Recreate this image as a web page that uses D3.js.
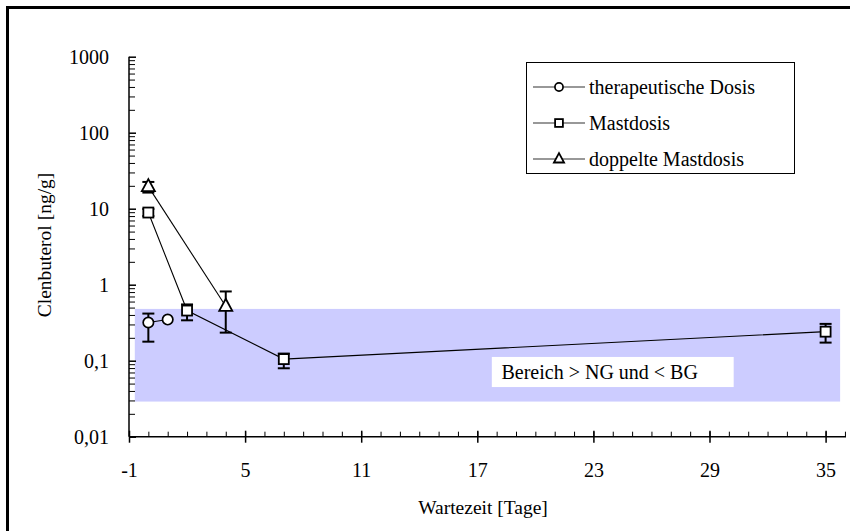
<!DOCTYPE html>
<html>
<head>
<meta charset="utf-8">
<script src="https://cdn.jsdelivr.net/npm/d3@7"></script>
<style>
body { margin: 0; background: #fff; }
svg { display: block; }
</style>
</head>
<body>
<svg class="chart" width="850" height="531"></svg>
<script>
// Wartezeit in Tagen, Clenbuterol in ng/g
var therapDays = [0, 1]
var therapVals = [0.318, 0.348]
var therapLo = [0.178, null]
var therapHi = [0.417, null]

var mastDays = [0, 2, 7, 35]
var mastVals = [8.9, 0.457, 0.105, 0.241]
var mastLo = [8.0, 0.34, 0.0795, 0.173]
var mastHi = [9.9, 0.55, 0.124, 0.305]

var doppDays = [0, 4]
var doppVals = [19.5, 0.52]
var doppLo = [16.3, 0.234]
var doppHi = [22.5, 0.815]

var seriesNames = ["therapeutische Dosis", "Mastdosis", "doppelte Mastdosis"]
var xTicks = [-1, 5, 11, 17, 23, 29, 35]
var yTicks = [0.01, 0.1, 1, 10, 100, 1000]
var yTickLabels = ["0,01", "0,1", "1", "10", "100", "1000"]

// Bereich > NG und < BG
var bandX = [-0.7, 35.75]
var bandY = [0.029, 0.48]
var noteText = "Bereich > NG und < BG"

var FONT = "'Liberation Serif', 'Times New Roman', serif"

var svg = d3.select(".chart")

var x = d3.scaleLinear().domain([-1, 35]).range([129, 825.6])
var y = d3.scaleLog().domain([0.01, 1000]).range([436.7, 56.7])

function pack(days, vals, lo, hi) {
    return days.map(function(d, i) {
        return {x: d, y: vals[i], lo: lo[i], hi: hi[i]}
    })
}
var series = [
    {name: seriesNames[0], shape: "circle", pts: pack(therapDays, therapVals, therapLo, therapHi)},
    {name: seriesNames[1], shape: "square", pts: pack(mastDays, mastVals, mastLo, mastHi)},
    {name: seriesNames[2], shape: "triangle", pts: pack(doppDays, doppVals, doppLo, doppHi)}
]

// frame
svg.append("line").attr("x1", 6).attr("x2", 850).attr("y1", 7.5).attr("y2", 7.5)
   .attr("stroke", "#000").attr("stroke-width", 3)
svg.append("line").attr("x1", 7.5).attr("x2", 7.5).attr("y1", 6).attr("y2", 531)
   .attr("stroke", "#000").attr("stroke-width", 3)

// band
svg.append("rect")
   .attr("x", x(bandX[0])).attr("width", x(bandX[1]) - x(bandX[0]))
   .attr("y", y(bandY[1])).attr("height", y(bandY[0]) - y(bandY[1]))
   .attr("fill", "#ccccff")

var note = svg.append("g")
note.append("rect")
   .attr("x", x(17.75)).attr("width", x(30.25) - x(17.75))
   .attr("y", y(0.112)).attr("height", y(0.045) - y(0.112))
   .attr("fill", "#fff")
note.append("text")
   .attr("x", x(18.25)).attr("y", y(0.071))
   .attr("dy", "0.35em")
   .attr("font-family", FONT).attr("font-size", 20)
   .text(noteText)

// x axis
var xAxis = svg.append("g")
   .attr("transform", "translate(0," + y(0.01) + ")")
xAxis.append("line").attr("x1", x(-1)).attr("x2", 846).attr("stroke", "#000").attr("stroke-width", 1.5)
xAxis.append("g")
   .call(d3.axisTop(x).tickValues(d3.range(-1, 37)).tickSize(5).tickFormat(""))
   .call(function(g) { g.select(".domain").remove() })
var xMaj = xAxis.append("g")
   .call(d3.axisBottom(x).tickValues(xTicks).tickSize(6).tickPadding(20).tickFormat(d3.format("d")))
xMaj.select(".domain").remove()
xMaj.selectAll(".tick line").attr("y1", -6).attr("stroke-width", 1.5)
xMaj.selectAll(".tick text").text(function(d) { return d < 0 ? "-" + Math.abs(d) : d })

// y axis
var yAxis = svg.append("g")
   .attr("transform", "translate(" + x(-1) + ",0)")
yAxis.append("line").attr("y1", y(0.01)).attr("y2", y(1000)).attr("stroke", "#000").attr("stroke-width", 1.5)
var minorY = []
yTicks.slice(0, -1).forEach(function(t) {
    for (var k = 2; k < 10; k++) minorY.push(t * k)
})
yAxis.append("g")
   .call(d3.axisRight(y).tickValues(minorY).tickSize(6).tickFormat(""))
   .call(function(g) { g.select(".domain").remove() })
var yMaj = yAxis.append("g")
   .call(d3.axisLeft(y).tickValues(yTicks).tickSize(7).tickPadding(13)
      .tickFormat(function(d, i) { return yTickLabels[i] }))
yMaj.select(".domain").remove()
yMaj.selectAll(".tick line").attr("x2", 7).attr("stroke-width", 1.5)

svg.selectAll(".tick text").attr("font-family", FONT).attr("font-size", 20).attr("fill", "#000")
svg.selectAll(".tick line").attr("stroke", "#000")

// axis titles
svg.append("text")
   .attr("x", 483).attr("y", 514)
   .attr("text-anchor", "middle").attr("font-family", FONT).attr("font-size", 19.5)
   .text("Wartezeit [Tage]")
svg.append("text")
   .attr("transform", "translate(44,245) rotate(-90)")
   .attr("text-anchor", "middle").attr("dy", "0.35em")
   .attr("font-family", FONT).attr("font-size", 19.5)
   .text("Clenbuterol [ng/g]")

// markers, k scales the size (legend uses smaller ones)
function drawMarker(g, shape, cx, cy, k) {
    k = k || 1
    if (shape == "circle") {
        g.append("circle").attr("cx", cx).attr("cy", cy).attr("r", 5.2 * k)
          .attr("fill", "#fff").attr("stroke", "#000").attr("stroke-width", 1.7)
    } else if (shape == "square") {
        g.append("rect").attr("x", cx - 5 * k).attr("y", cy - 5 * k).attr("width", 10 * k).attr("height", 10 * k)
          .attr("fill", "#fff").attr("stroke", "#000").attr("stroke-width", 1.8)
    } else {
        g.append("path").attr("transform", "translate(" + cx + "," + cy + ") scale(" + k + ")")
          .attr("d", "M0,-7.5L6.5,4.5L-6.5,4.5Z")
          .attr("fill", "#fff").attr("stroke", "#000").attr("stroke-width", 1.8 / k)
    }
}

var line = d3.line().x(function(d) { return x(d.x) }).y(function(d) { return y(d.y) })

series.forEach(function(s) {
    var g = svg.append("g")
    g.append("path").attr("d", line(s.pts))
       .attr("fill", "none").attr("stroke", "#000").attr("stroke-width", 1.1)
    s.pts.forEach(function(p) {
        if (p.lo == null) return
        var px = x(p.x)
        g.append("line").attr("x1", px).attr("x2", px).attr("y1", y(p.lo)).attr("y2", y(p.hi))
          .attr("stroke", "#000").attr("stroke-width", 2)
        ;[p.lo, p.hi].forEach(function(v) {
            g.append("line").attr("x1", px - 6).attr("x2", px + 6).attr("y1", y(v)).attr("y2", y(v))
              .attr("stroke", "#000").attr("stroke-width", 2)
        })
    })
    s.pts.forEach(function(p) { drawMarker(g, s.shape, x(p.x), y(p.y)) })
})

// legend
var leg = svg.append("g")
leg.append("rect").attr("x", 526.5).attr("y", 62.5).attr("width", 268).attr("height", 111)
   .attr("fill", "#fff").attr("stroke", "#000").attr("stroke-width", 1)
series.forEach(function(s, i) {
    var ly = 87 + i * 36
    leg.append("line").attr("x1", 533).attr("x2", 585).attr("y1", ly).attr("y2", ly)
       .attr("stroke", "#333").attr("stroke-width", 1.1)
    drawMarker(leg, s.shape, 559, ly, 0.78)
    leg.append("text").attr("x", 589).attr("y", ly).attr("dy", "0.35em")
       .attr("font-family", FONT).attr("font-size", 20).text(s.name)
})
</script>
</body>
</html>
